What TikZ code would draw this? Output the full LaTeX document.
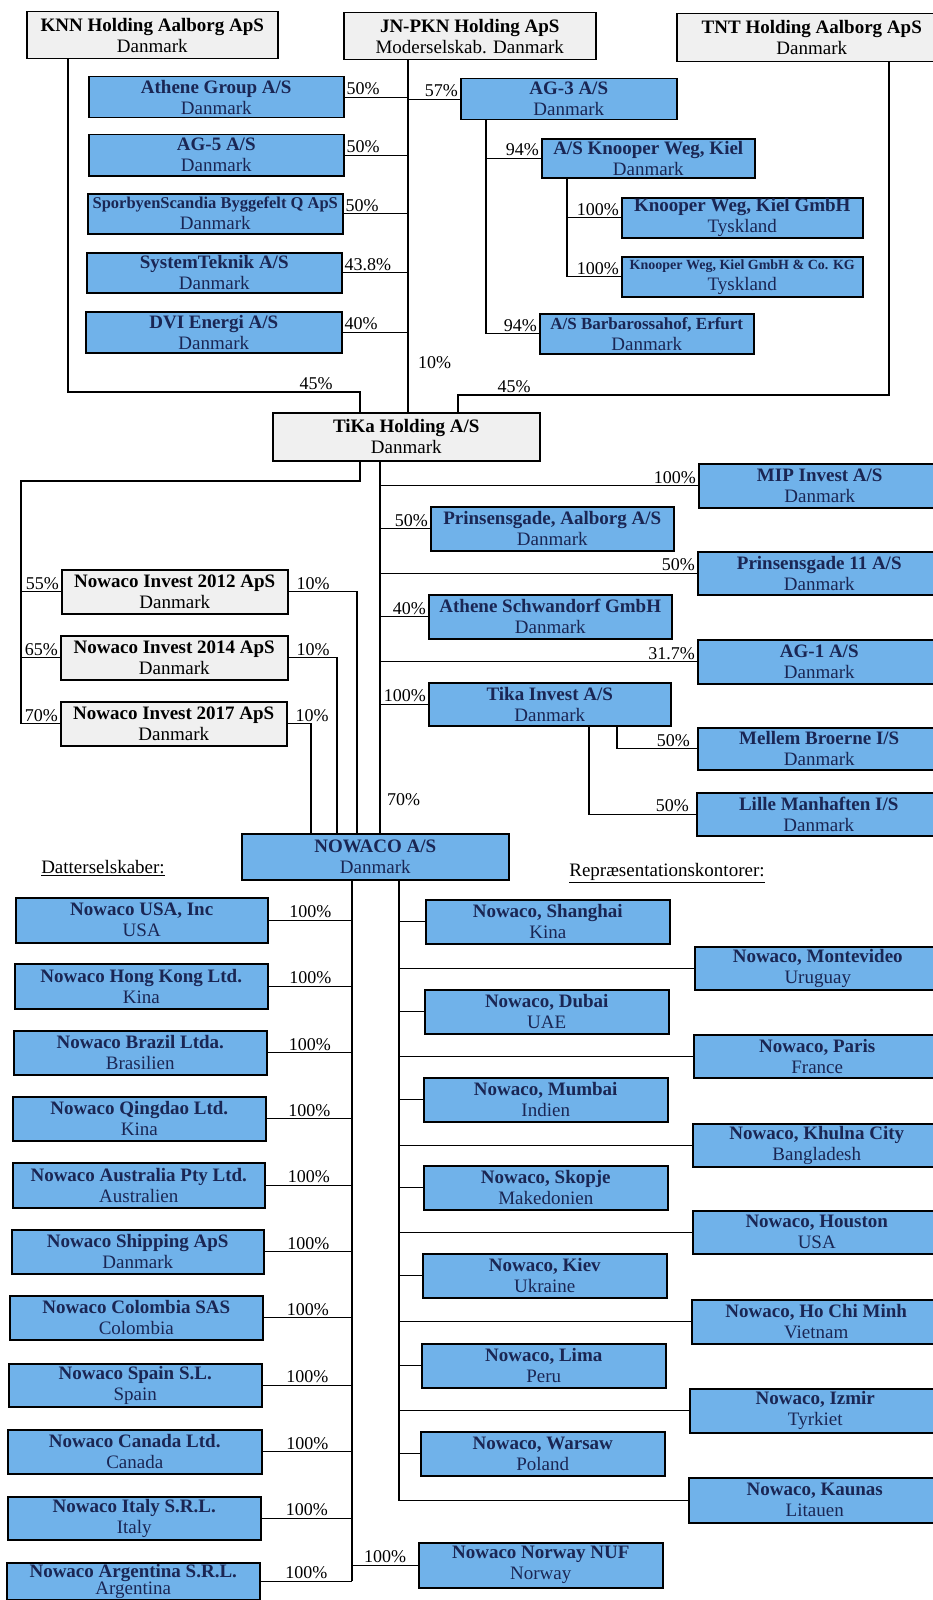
\documentclass[tikz,border=0pt]{standalone}
\usepackage{fontspec}
\setmainfont{Liberation Serif}
\usetikzlibrary{positioning}
\definecolor{unitblue}{RGB}{112,178,234}
\definecolor{unitnavy}{RGB}{26,38,84}
\definecolor{holdgrey}{RGB}{240,240,240}

\begin{document}
\begin{tikzpicture}[
  x=1pt, y=-1pt, line width=1.2pt,
  font=\fontsize{19}{21}\selectfont,
  hold/.style={draw, line width=1.5pt, fill=holdgrey, align=center,
               anchor=north west, inner sep=1pt},
  unit/.style={draw, line width=1.5pt, fill=unitblue, text=unitnavy,
               align=center, anchor=north west, inner sep=1pt},
  pct/.style={inner sep=1.5pt, font=\fontsize{18}{18}\selectfont},
  head/.style={inner sep=1pt}]
\useasboundingbox (0,0) rectangle (932,1600);

% owners
\node[hold, minimum width=251pt, minimum height=47pt] (knn) at (26,11)
  {\textbf{KNN Holding Aalborg ApS}\\Danmark};
\node[hold, minimum width=252pt, minimum height=47pt] (jnpkn) at (343,12)
  {\textbf{JN-PKN Holding ApS}\\Moderselskab. Danmark};
\node[hold, minimum width=270pt, minimum height=48pt] (tnt) at (676,13)
  {\textbf{TNT Holding Aalborg ApS}\\Danmark};

% JN-PKN holdings
\node[unit, minimum width=255pt, minimum height=41pt] (athene) at (88,76)
  {\textbf{Athene Group A/S}\\Danmark};
\node[unit, minimum width=255pt, minimum height=41pt] (ag5) at (88,134)
  {\textbf{AG-5 A/S}\\Danmark};
\node[unit, minimum width=255pt, minimum height=40pt] (sporbyen) at (87,193)
  {{\fontsize{16.5}{21}\selectfont\textbf{SporbyenScandia Byggefelt Q ApS}}\\Danmark};
\node[unit, minimum width=255pt, minimum height=40pt] (systek) at (86,252)
  {\textbf{SystemTeknik A/S}\\Danmark};
\node[unit, minimum width=256pt, minimum height=41pt] (dvi) at (85,311)
  {\textbf{DVI Energi A/S}\\Danmark};
\node[unit, minimum width=216pt, minimum height=41pt] (ag3) at (460,78)
  {\textbf{AG-3 A/S}\\Danmark};
\node[unit, minimum width=213pt, minimum height=39pt] (kiel) at (541,138)
  {\textbf{A/S Knooper Weg, Kiel}\\Danmark};
\node[unit, minimum width=241pt, minimum height=40pt] (kielgmbh) at (621,197)
  {\textbf{Knooper Weg, Kiel GmbH}\\Tyskland};
\node[unit, minimum width=241pt, minimum height=40pt] (kielkg) at (621,256)
  {{\fontsize{14}{21}\selectfont\textbf{Knooper Weg, Kiel GmbH \& Co. KG}}\\Tyskland};
\node[unit, minimum width=214pt, minimum height=40pt] (erfurt) at (539,313)
  {{\fontsize{17}{21}\selectfont\textbf{A/S Barbarossahof, Erfurt}}\\Danmark};

% TiKa and its holdings
\node[hold, minimum width=267pt, minimum height=48pt] (tika) at (272,412)
  {\textbf{TiKa Holding A/S}\\Danmark};
\node[unit, minimum width=242pt, minimum height=44pt] (mip) at (698,463)
  {\textbf{MIP Invest A/S}\\Danmark};
\node[unit, minimum width=243pt, minimum height=44pt] (prinsaal) at (430,506)
  {\textbf{Prinsensgade, Aalborg A/S}\\Danmark};
\node[unit, minimum width=243pt, minimum height=43pt] (prins11) at (697,551)
  {\textbf{Prinsensgade 11 A/S}\\Danmark};
\node[unit, minimum width=243pt, minimum height=44pt] (schwan) at (428,594)
  {\textbf{Athene Schwandorf GmbH}\\Danmark};
\node[unit, minimum width=243pt, minimum height=44pt] (ag1) at (697,639)
  {\textbf{AG-1 A/S}\\Danmark};
\node[unit, minimum width=242pt, minimum height=43pt] (tinv) at (428,682)
  {\textbf{Tika Invest A/S}\\Danmark};
\node[unit, minimum width=243pt, minimum height=42pt] (mellem) at (697,727)
  {\textbf{Mellem Broerne I/S}\\Danmark};
\node[unit, minimum width=244pt, minimum height=43pt] (lille) at (696,792)
  {\textbf{Lille Manhaften I/S}\\Danmark};
\node[hold, minimum width=226pt, minimum height=44pt] (ni12) at (61,569)
  {\textbf{Nowaco Invest 2012 ApS}\\Danmark};
\node[hold, minimum width=227pt, minimum height=44pt] (ni14) at (60,635)
  {\textbf{Nowaco Invest 2014 ApS}\\Danmark};
\node[hold, minimum width=226pt, minimum height=44pt] (ni17) at (60,701)
  {\textbf{Nowaco Invest 2017 ApS}\\Danmark};

% NOWACO
\node[unit, minimum width=267pt, minimum height=46pt] (nowaco) at (241,833)
  {\textbf{NOWACO A/S}\\Danmark};
\node[head] (datter) at (103,868) {\underline{Datterselskaber:}};
\node[head] (repr) at (667,873) {\underline{Repræsentationskontorer:}};

% subsidiaries
\node[unit, minimum width=252pt, minimum height=45pt] (usa) at (15,897)
  {\textbf{Nowaco USA, Inc}\\USA};
\node[unit, minimum width=253pt, minimum height=45pt] (hk) at (14,963)
  {\textbf{Nowaco Hong Kong Ltd.}\\Kina};
\node[unit, minimum width=253pt, minimum height=44pt] (brazil) at (13,1030)
  {\textbf{Nowaco Brazil Ltda.}\\Brasilien};
\node[unit, minimum width=253pt, minimum height=44pt] (qingdao) at (12,1096)
  {\textbf{Nowaco Qingdao Ltd.}\\Kina};
\node[unit, minimum width=252pt, minimum height=45pt] (austr) at (12,1162)
  {\textbf{Nowaco Australia Pty Ltd.}\\Australien};
\node[unit, minimum width=252pt, minimum height=44pt] (shipping) at (11,1229)
  {\textbf{Nowaco Shipping ApS}\\Danmark};
\node[unit, minimum width=253pt, minimum height=44pt] (colombia) at (9,1295)
  {\textbf{Nowaco Colombia SAS}\\Colombia};
\node[unit, minimum width=253pt, minimum height=43pt] (spain) at (8,1363)
  {\textbf{Nowaco Spain S.L.}\\Spain};
\node[unit, minimum width=254pt, minimum height=44pt] (canada) at (7,1429)
  {\textbf{Nowaco Canada Ltd.}\\Canada};
\node[unit, minimum width=253pt, minimum height=43pt] (italy) at (7,1496)
  {\textbf{Nowaco Italy S.R.L.}\\Italy};
\node[unit, minimum width=253pt, minimum height=37pt, inner sep=0.5pt,
      font=\fontsize{19}{17.5}\selectfont] (argentina) at (6,1562)
  {\textbf{Nowaco Argentina S.R.L.}\\Argentina};
\node[unit, minimum width=244pt, minimum height=45pt] (norway) at (418,1542)
  {\textbf{Nowaco Norway NUF}\\Norway};

% offices
\node[unit, minimum width=244pt, minimum height=44pt] (shanghai) at (425,899)
  {\textbf{Nowaco, Shanghai}\\Kina};
\node[unit, minimum width=244pt, minimum height=44pt] (dubai) at (424,989)
  {\textbf{Nowaco, Dubai}\\UAE};
\node[unit, minimum width=244pt, minimum height=44pt] (mumbai) at (423,1077)
  {\textbf{Nowaco, Mumbai}\\Indien};
\node[unit, minimum width=244pt, minimum height=44pt] (skopje) at (423,1165)
  {\textbf{Nowaco, Skopje}\\Makedonien};
\node[unit, minimum width=244pt, minimum height=44pt] (kiev) at (422,1253)
  {\textbf{Nowaco, Kiev}\\Ukraine};
\node[unit, minimum width=244pt, minimum height=44pt] (lima) at (421,1343)
  {\textbf{Nowaco, Lima}\\Peru};
\node[unit, minimum width=244pt, minimum height=44pt] (warsaw) at (420,1431)
  {\textbf{Nowaco, Warsaw}\\Poland};
\node[unit, minimum width=246pt, minimum height=43pt] (montevideo) at (694,946)
  {\textbf{Nowaco, Montevideo}\\Uruguay};
\node[unit, minimum width=247pt, minimum height=43pt] (paris) at (693,1034)
  {\textbf{Nowaco, Paris}\\France};
\node[unit, minimum width=248pt, minimum height=43pt] (khulna) at (692,1123)
  {\textbf{Nowaco, Khulna City}\\Bangladesh};
\node[unit, minimum width=248pt, minimum height=43pt] (houston) at (692,1210)
  {\textbf{Nowaco, Houston}\\USA};
\node[unit, minimum width=249pt, minimum height=44pt] (hcm) at (691,1299)
  {\textbf{Nowaco, Ho Chi Minh}\\Vietnam};
\node[unit, minimum width=251pt, minimum height=44pt] (izmir) at (689,1388)
  {\textbf{Nowaco, Izmir}\\Tyrkiet};
\node[unit, minimum width=252pt, minimum height=45pt] (kaunas) at (688,1477)
  {\textbf{Nowaco, Kaunas}\\Litauen};

% trunk columns
\coordinate (jt) at (408,0);
\coordinate (kj) at (68,392);
\coordinate (tj) at (889,395);
\coordinate (tl) at (360,0);
\coordinate (tr) at (458,0);
\coordinate (a3) at (486,0);
\coordinate (kt) at (567,0);
\coordinate (tc) at (21,481);
\coordinate (tt) at (380,0);
\coordinate (ti) at (617,0);
\coordinate (tm) at (589,0);
\coordinate (n12) at (357,0);
\coordinate (n14) at (337,0);
\coordinate (n17) at (311,0);
\coordinate (lt) at (352,0);
\coordinate (rt) at (399,0);

% owners -> TiKa
\draw (knn.south -| kj) -- (kj) -- node[pct,above,pos=0.85]{45\%} (kj -| tl)
  -- (tika.north -| tl);
\draw (tnt.south -| tj) -- (tj) -- node[pct,above,pos=0.87]{45\%} (tj -| tr)
  -- (tika.north -| tr);
\draw (jnpkn.south -| jt) -- node[pct,pos=0.86,right=8pt]{10\%} (tika.north -| jt);

% JN-PKN
\draw (athene.east) -- node[pct,at start,above right]{50\%} (athene.east -| jt);
\draw (ag5.east) -- node[pct,at start,above right]{50\%} (ag5.east -| jt);
\draw (sporbyen.east) -- node[pct,at start,above right]{50\%} (sporbyen.east -| jt);
\draw (systek.east) -- node[pct,at start,above right]{43.8\%} (systek.east -| jt);
\draw (dvi.east) -- node[pct,at start,above right]{40\%} (dvi.east -| jt);
\draw (ag3.west -| jt) -- node[pct,at end,above left]{57\%} (ag3.west);
\draw (ag3.south -| a3) |- node[pct,at end,above left]{94\%} (erfurt.west);
\draw (kiel.west -| a3) -- node[pct,at end,above left]{94\%} (kiel.west);
\draw (kiel.south -| kt) |- node[pct,at end,above left]{100\%} (kielkg.west);
\draw (kielgmbh.west -| kt) -- node[pct,at end,above left]{100\%} (kielgmbh.west);

% TiKa
\draw (tika.south -| tl) |- (tc) |- node[pct,at end,above left]{70\%} (ni17.west);
\draw (ni12.west -| tc) -- node[pct,at end,above left]{55\%} (ni12.west);
\draw (ni14.west -| tc) -- node[pct,at end,above left]{65\%} (ni14.west);
\draw (ni12.east) -| node[pct,at start,above right,xshift=6pt]{10\%} (nowaco.north -| n12);
\draw (ni14.east) -| node[pct,at start,above right,xshift=6pt]{10\%} (nowaco.north -| n14);
\draw (ni17.east) -| node[pct,at start,above right,xshift=6pt]{10\%} (nowaco.north -| n17);
\draw (tika.south -| tt) -- node[pct,pos=0.91,right=5pt]{70\%} (nowaco.north -| tt);
\draw (mip.west -| tt) -- node[pct,at end,above left]{100\%} (mip.west);
\draw (prinsaal.west -| tt) -- node[pct,at end,above left]{50\%} (prinsaal.west);
\draw (prins11.west -| tt) -- node[pct,at end,above left]{50\%} (prins11.west);
\draw (schwan.west -| tt) -- node[pct,at end,above left]{40\%} (schwan.west);
\draw (ag1.west -| tt) -- node[pct,at end,above left]{31.7\%} (ag1.west);
\draw (tinv.west -| tt) -- node[pct,at end,above left]{100\%} (tinv.west);
\draw (tinv.south -| ti) |- node[pct,at end,above left,xshift=-5pt]{50\%} (mellem.west);
\draw (tinv.south -| tm) |- node[pct,at end,above left,xshift=-5pt]{50\%} (lille.west);

% NOWACO subsidiaries
\draw (nowaco.south -| lt) -- (argentina.east -| lt);
\draw (usa.east) -- node[pct,above]{100\%} (usa.east -| lt);
\draw (hk.east) -- node[pct,above]{100\%} (hk.east -| lt);
\draw (brazil.east) -- node[pct,above]{100\%} (brazil.east -| lt);
\draw (qingdao.east) -- node[pct,above]{100\%} (qingdao.east -| lt);
\draw (austr.east) -- node[pct,above]{100\%} (austr.east -| lt);
\draw (shipping.east) -- node[pct,above]{100\%} (shipping.east -| lt);
\draw (colombia.east) -- node[pct,above]{100\%} (colombia.east -| lt);
\draw (spain.east) -- node[pct,above]{100\%} (spain.east -| lt);
\draw (canada.east) -- node[pct,above]{100\%} (canada.east -| lt);
\draw (italy.east) -- node[pct,above]{100\%} (italy.east -| lt);
\draw (argentina.east) -- node[pct,above]{100\%} (argentina.east -| lt);
\draw (norway.west -| lt) -- node[pct,above]{100\%} (norway.west);

% offices
\draw (nowaco.south -| rt) |- (kaunas.west);
\draw (shanghai.west -| rt) -- (shanghai.west);
\draw (montevideo.west -| rt) -- (montevideo.west);
\draw (dubai.west -| rt) -- (dubai.west);
\draw (paris.west -| rt) -- (paris.west);
\draw (mumbai.west -| rt) -- (mumbai.west);
\draw (khulna.west -| rt) -- (khulna.west);
\draw (skopje.west -| rt) -- (skopje.west);
\draw (houston.west -| rt) -- (houston.west);
\draw (kiev.west -| rt) -- (kiev.west);
\draw (hcm.west -| rt) -- (hcm.west);
\draw (lima.west -| rt) -- (lima.west);
\draw (izmir.west -| rt) -- (izmir.west);
\draw (warsaw.west -| rt) -- (warsaw.west);
\end{tikzpicture}
\end{document}
